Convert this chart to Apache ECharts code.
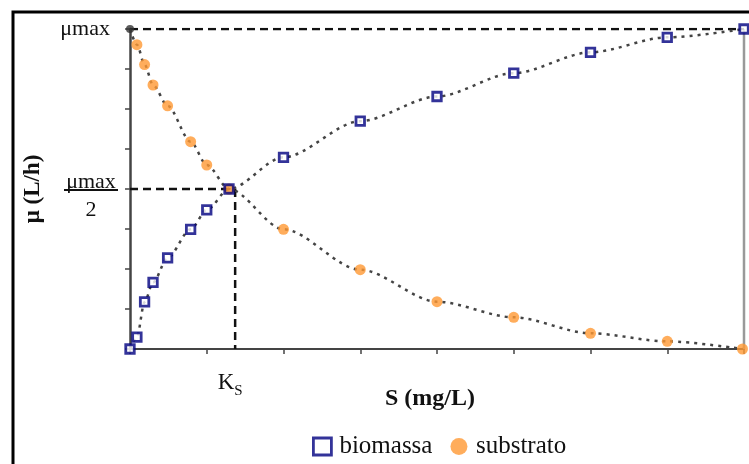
<!DOCTYPE html>
<html>
<head>
<meta charset="utf-8">
<script src="https://cdn.jsdelivr.net/npm/echarts@6/dist/echarts.min.js"></script>
<style>html,body{margin:0;padding:0;background:#fff}#c{width:749px;height:464px}</style>
</head>
<body>
<div id="c"></div>
<script>
// Data (S in tick units, μ as fraction of μmax)
const biomassaS = [0, 0.09, 0.19, 0.30, 0.49, 0.79, 1.0, 1.29, 2.0, 3.0, 4.0, 5.0, 6.0, 7.0, 8.0];
const biomassaMu = [0, 0.037, 0.147, 0.208, 0.285, 0.374, 0.435, 0.5, 0.599, 0.712, 0.789, 0.862, 0.927, 0.974, 1.0];
const substratoS = [0.09, 0.19, 0.30, 0.49, 0.79, 1.0, 1.29, 2.0, 3.0, 4.0, 5.0, 6.0, 7.0, 7.98];
const substratoMu = [0.951, 0.889, 0.825, 0.76, 0.648, 0.575, 0.5, 0.374, 0.248, 0.148, 0.099, 0.049, 0.024, 0.0];
const substratoStart = [0, 1];
const ksValue = 1.37;
const muMax = 1;
const legendNames = ['biomassa', 'substrato'];

const FONT = '"Liberation Serif", "DejaVu Serif", serif';
const zip = (a, b) => a.map((v, i) => [v, b[i]]);
const bioData = zip(biomassaS, biomassaMu);
const subData = zip(substratoS, substratoMu);
const subLine = [substratoStart].concat(subData);
// squares are white-filled, except where they sit on a substrate point (hollow there)
const bioMarks = bioData.map(p => {
  const shared = subData.some(q => q[0] === p[0] && q[1] === p[1]);
  return shared ? { value: p, itemStyle: { color: 'rgba(255,255,255,0)' } } : { value: p };
});

const chart = echarts.init(document.getElementById('c'));
chart.setOption({
  animation: false,
  backgroundColor: '#fff',
  grid: { left: 130, right: 5, top: 29, bottom: 115, containLabel: false },
  legend: {
    left: 307, top: 429,
    itemWidth: 18, itemHeight: 17, itemGap: 18,
    textStyle: { fontFamily: FONT, fontSize: 25, color: '#111', padding: [0, 0, 0, 3] },
    data: [
      { name: legendNames[0], icon: 'rect', itemStyle: { color: '#fff', borderColor: '#000080', borderWidth: 2.8 } },
      { name: legendNames[1], icon: 'circle', itemStyle: { color: '#FF9933' } }
    ]
  },
  xAxis: {
    type: 'value', min: 0, max: 8, interval: 1,
    name: 'S (mg/L)', nameLocation: 'middle', nameGap: 38,
    nameTextStyle: { fontFamily: FONT, fontSize: 24, fontWeight: 'bold', color: '#111', padding: [0, 14, 0, 0] },
    axisLine: { lineStyle: { color: '#444', width: 2 } },
    axisTick: { show: true, length: 5, lineStyle: { color: '#444', width: 1.5 } },
    axisLabel: { show: false },
    splitLine: { show: false }
  },
  yAxis: {
    type: 'value', min: 0, max: 1, interval: 0.125,
    name: 'μ (L/h)', nameLocation: 'middle', nameGap: 85, nameRotate: 90,
    nameTextStyle: { fontFamily: FONT, fontSize: 23, fontWeight: 'bold', color: '#111' },
    axisLine: { lineStyle: { color: '#444', width: 2.5 } },
    axisTick: { show: true, length: 5, lineStyle: { color: '#444', width: 1.5 } },
    axisLabel: {
      margin: 12,
      fontFamily: FONT, color: '#111',
      formatter: function (v) {
        if (Math.abs(v - muMax) < 1e-6) return '{t|μmax}';
        if (Math.abs(v - muMax / 2) < 1e-6) return '{g| }\n{a|μmax}\n{l|}\n{b|2}';
        return '';
      },
      rich: {
        t: { fontFamily: FONT, fontSize: 22, color: '#111', padding: [0, 8, 0, 0] },
        g: { fontSize: 10, lineHeight: 26, width: 54 },
        a: { fontFamily: FONT, fontSize: 22, color: '#111', width: 54, align: 'center', lineHeight: 14 },
        l: { width: 54, height: 2, lineHeight: 2, backgroundColor: '#111' },
        b: { fontFamily: FONT, fontSize: 22, color: '#111', width: 54, align: 'center', lineHeight: 38 }
      }
    },
    splitLine: { show: false }
  },
  series: [
    { type: 'line', data: [[8, 0], [8, 1]], symbol: 'none', silent: true, lineStyle: { color: '#999', width: 2.5 }, z: 1 },
    { type: 'line', data: [[0, 1], [8, 1]], symbol: 'none', silent: true, lineStyle: { color: '#111', width: 2.5, type: [8, 5] }, z: 2 },
    { type: 'line', data: [[0, 0.5], [ksValue, 0.5]], symbol: 'none', silent: true, lineStyle: { color: '#111', width: 2.5, type: [8, 5] }, z: 2 },
    { type: 'line', data: [[ksValue, 0.5], [ksValue, 0]], symbol: 'none', silent: true, lineStyle: { color: '#111', width: 2.5, type: [8, 5] }, z: 2 },
    { type: 'line', data: bioData, symbol: 'none', smooth: 0.3, smoothMonotone: 'x', silent: true, lineStyle: { color: '#444', width: 2.5, type: [3, 5] }, z: 3 },
    { type: 'line', data: subLine, symbol: 'none', smooth: 0.3, smoothMonotone: 'x', silent: true, lineStyle: { color: '#444', width: 2.5, type: [3, 5] }, z: 3 },
    { type: 'scatter', data: [substratoStart], symbol: 'circle', symbolSize: 8, itemStyle: { color: '#333' }, z: 4 },
    { name: legendNames[1], type: 'scatter', data: subData, symbol: 'circle', symbolSize: 11, itemStyle: { color: '#FF9933' }, z: 5 },
    { name: legendNames[0], type: 'scatter', data: bioMarks, symbol: 'rect', symbolSize: 8.5, itemStyle: { color: '#fff', borderColor: '#000080', borderWidth: 2.8 }, z: 6 }
  ]
});

// Ks label placed under the Ks line through the chart's own scale
const ksPix = chart.convertToPixel({ gridIndex: 0 }, [ksValue, 0]);
chart.setOption({
  graphic: [
    { type: 'polyline', shape: { points: [[13, 464], [13, 12], [749, 12]] }, style: { stroke: '#000', lineWidth: 3, fill: null } },
    {
      type: 'text', x: ksPix[0] - 5, y: ksPix[1] + 34,
      style: {
        text: '{k|K}{s|S}', align: 'center', verticalAlign: 'middle', fill: '#111',
        rich: {
          k: { fontFamily: FONT, fontSize: 23, fill: '#111', verticalAlign: 'bottom' },
          s: { fontFamily: FONT, fontSize: 15, fill: '#111', verticalAlign: 'bottom', padding: [0, 0, -4, 0] }
        }
      }
    }
  ]
});
</script>
</body>
</html>
